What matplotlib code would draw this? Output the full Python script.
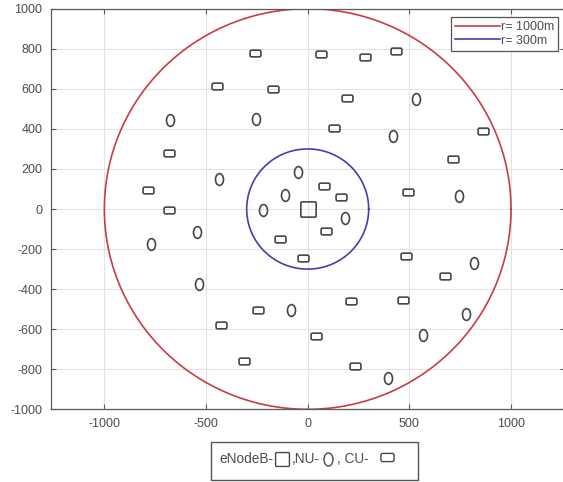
import numpy as np
import matplotlib
matplotlib.use("Agg")
import matplotlib.pyplot as plt
from matplotlib.path import Path
from matplotlib.patches import BoxStyle, Rectangle
from matplotlib.transforms import Affine2D
from matplotlib.lines import Line2D

plt.rcParams['font.family'] = ['Liberation Sans', 'DejaVu Sans']
plt.rcParams['axes.unicode_minus'] = False

# cell radii (m)
r_cell = 1000
r_inner = 300

# eNodeB at the centre
enb_x = [0]
enb_y = [0]

# normal users (NU)
nu_x = [-675, -255, -435, -110, -220, -545, -770, 535, 420, -50,
        745, 185, -535, -80, 820, 780, 565, 395]
nu_y = [445, 450, 150, 70, -5, -115, -175, 550, 365, 185,
        65, -45, -375, -505, -270, -525, -630, -845]

# cellular users (CU)
cu_x = [-260, -445, -170, -680, -785, -680, 65, 280, 435, 195,
        130, 860, 715, 80, 165, 495, 90, -135, -245, -425,
        -315, -25, 485, 675, 215, 470, 40, 235]
cu_y = [780, 615, 600, 280, 95, -5, 775, 757, 790, 555,
        405, 390, 250, 115, 60, 85, -110, -150, -505, -580,
        -760, -245, -235, -335, -460, -455, -635, -785]

mk_col = '#474747'
txt_col = '#4d4d4d'

# marker shapes: tall ellipse for NU, rounded box for CU
nu_marker = Path.unit_circle().transformed(Affine2D().scale(0.34, 0.5))
cu_marker = BoxStyle.Round(pad=0, rounding_size=0.14)(-0.5, -0.31, 1.0, 0.62, 1.0)
enb_marker = BoxStyle.Round(pad=0, rounding_size=0.08)(-0.5, -0.5, 1.0, 1.0, 1.0)

fig = plt.figure(figsize=(5.63, 4.82), dpi=100)
ax = fig.add_axes([0.0900, 0.1508, 0.913, 0.8311])

th = np.linspace(0, 2 * np.pi, 400)
ax.plot(r_cell * np.cos(th), r_cell * np.sin(th), color='#c83c48', lw=1.2,
        label='r= 1000m')
ax.plot(r_inner * np.cos(th), r_inner * np.sin(th), color='#4040b0', lw=1.2,
        label='r= 300m')

ax.plot(nu_x, nu_y, ls='none', marker=nu_marker, ms=8.5, mfc='none',
        mec=mk_col, mew=1.2)
ax.plot(cu_x, cu_y, ls='none', marker=cu_marker, ms=7.8, mfc='none',
        mec=mk_col, mew=1.2)
ax.plot(enb_x, enb_y, ls='none', marker=enb_marker, ms=11, mfc='none',
        mec=mk_col, mew=1.2)

ax.set_xlim(-1264, 1264)
ax.set_ylim(-1000, 1000)
ax.set_xticks([-1000, -500, 0, 500, 1000])
ax.set_yticks(np.arange(-1000, 1001, 200))
ax.grid(True, color='#e3e3e3', lw=0.8)
ax.set_axisbelow(True)
ax.tick_params(direction='in', length=3.5, width=0.8, top=True, right=True,
               labelsize=9, labelcolor=txt_col, color='#5a5a5a', pad=6)
for s in ax.spines.values():
    s.set_color('#5a5a5a')
    s.set_linewidth(0.9)

leg = ax.legend(loc='upper right', bbox_to_anchor=(0.987, 0.979),
                borderaxespad=0, fancybox=False, framealpha=1,
                edgecolor='#555555', fontsize=9, handlelength=3.6,
                handletextpad=0.1, borderpad=0.3, labelspacing=0.15)
leg.get_frame().set_linewidth(0.9)
for t in leg.get_texts():
    t.set_color(txt_col)

# key box under the axes
W, H = 563.0, 482.0
fig.add_artist(Rectangle((211 / W, 1 - 480 / H), 207 / W, 38.3 / H,
                         transform=fig.transFigure, fill=False,
                         ec='#555555', lw=1.0))
yc = 1 - 459 / H
fig.text(219 / W, yc, 'eNodeB-', fontsize=9.8, color=txt_col, va='center')
fig.add_artist(Line2D([282 / W], [yc], transform=fig.transFigure, ls='none',
                      marker=enb_marker, ms=10, mfc='none', mec=mk_col, mew=1.0))
fig.text(292 / W, yc, ',NU-', fontsize=9.8, color=txt_col, va='center')
fig.add_artist(Line2D([327.5 / W], [yc], transform=fig.transFigure, ls='none',
                      marker=nu_marker, ms=9.5, mfc='none', mec=mk_col, mew=1.0))
fig.text(337 / W, yc, ', CU-', fontsize=9.8, color=txt_col, va='center')
fig.add_artist(Line2D([386.5 / W], [1 - 457 / H], transform=fig.transFigure,
                      ls='none', marker=cu_marker, ms=9.5, mfc='none',
                      mec=mk_col, mew=1.0))

fig.savefig('out.png', dpi=100)
